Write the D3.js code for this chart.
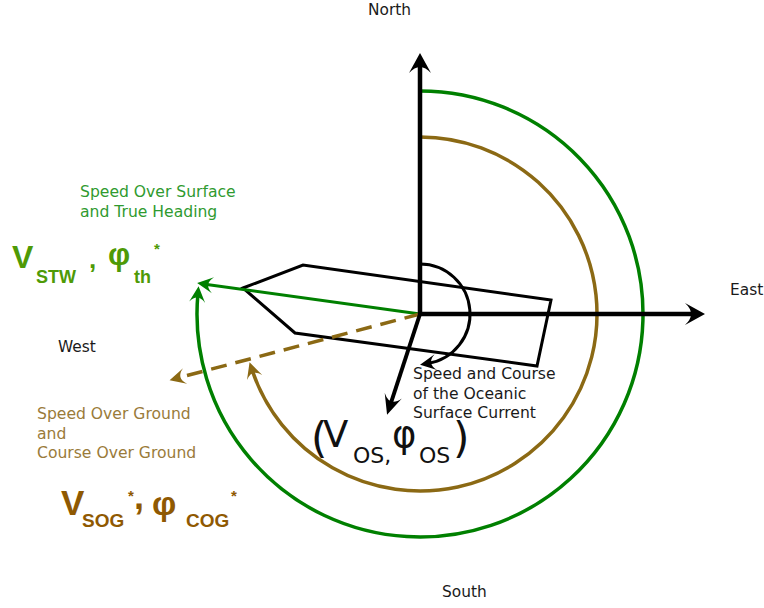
<!DOCTYPE html>
<html lang="en">
<head>
<meta charset="UTF-8">
<title>Speed and course vectors of a vessel</title>
<script src="https://d3js.org/d3.v7.min.js"></script>
<style>
  body { margin: 0; background: #fff; }
  svg { display: block; }
  text { font-family: "DejaVu Sans", sans-serif; }
  .sym { font-family: "Liberation Sans", Arial, sans-serif; font-weight: bold; }
</style>
</head>
<body>
<div id="diagram"></div>
<script>
// Bearings are degrees clockwise from north, lengths in chart units
var compassNames = ["North", "East", "South", "West"];
var axisBearings = [0, 90];
var axisLengths = [261, 285];

var vectorNames = ["STW", "SOG", "OS"];
var vectorBearings = [277.9, 255.2, 198.1];
var vectorLengths = [225, 259, 106];

var arcNames = ["heading", "courseOverGround", "current"];
var arcRadii = [223, 177, 50];
var arcEndBearings = [277, 254, 180];

// ship hull corners, east / north offsets from the reference point
var hullEast = [-177, -117, 131, 117, -125];
var hullNorth = [26, 49, 14, -52, -19];

var stwLines = ["Speed Over Surface", "and True Heading"];
var sogLines = ["Speed Over Ground", "and", "Course Over Ground"];
var osLines = ["Speed and Course", "of the Oceanic", "Surface Current"];

var width = 764, height = 608;
var green = "#008000", brown = "#8b6914";

var x = d3.scaleLinear().domain([-420, 344]).range([0, width]);
var y = d3.scaleLinear().domain([314, -294]).range([0, height]);

function polar(bearing, r) {
    var a = bearing * Math.PI / 180;
    return [x(r * Math.sin(a)), y(r * Math.cos(a))];
}

var svg = d3.select("#diagram").append("svg")
    .attr("width", width)
    .attr("height", height);

var defs = svg.append("defs");

// notched arrow head, tip sits half a head length past the path end
function addMarker(id, color, len, wid) {
    defs.append("marker")
        .attr("id", id)
        .attr("markerUnits", "userSpaceOnUse")
        .attr("viewBox", [-len - 1, -wid - 1, len + 2, wid * 2 + 2].join(" "))
        .attr("markerWidth", len + 2)
        .attr("markerHeight", wid * 2 + 2)
        .attr("refX", -len * 0.5)
        .attr("refY", 0)
        .attr("orient", "auto")
        .append("path")
        .attr("d", "M0,0 L" + (-len) + "," + (-wid) + " Q" + (-0.4 * len) + ",0 " + (-len) + "," + wid + " Z")
        .attr("fill", color);
}
addMarker("head-axis", "#000", 20, 11);
addMarker("head-os", "#000", 20, 9);
addMarker("head-green", green, 16, 8);
addMarker("head-brown", brown, 16, 8);
addMarker("head-small", "#000", 16, 8);

// ship hull
var hullLine = d3.line().x(function (d) { return x(d[0]); }).y(function (d) { return y(d[1]); });
svg.append("path")
    .attr("d", hullLine(d3.zip(hullEast, hullNorth)) + "Z")
    .attr("fill", "none")
    .attr("stroke", "#000")
    .attr("stroke-width", 3)
    .attr("stroke-linejoin", "miter");

// clockwise arcs from north
var arcColors = [green, brown, "#000"];
var arcMarkers = ["head-green", "head-brown", "head-small"];
var arcHeads = [15, 15, 16];
var arcWidths = [3.5, 3.5, 3];
arcRadii.forEach(function (r, i) {
    var rp = x(r) - x(0);
    var endB = arcEndBearings[i] - (arcHeads[i] * 0.5 / rp) * 180 / Math.PI;
    var p = d3.path();
    var a0 = -Math.PI / 2;
    var a1 = (endB - 90) * Math.PI / 180;
    var s = polar(0, r);
    p.moveTo(s[0], s[1]);
    p.arc(x(0), y(0), rp, a0, a1, false);
    svg.append("path")
        .attr("class", "arc-" + arcNames[i])
        .attr("d", p.toString())
        .attr("fill", "none")
        .attr("stroke", arcColors[i])
        .attr("stroke-width", arcWidths[i])
        .attr("marker-end", "url(#" + arcMarkers[i] + ")");
});

// velocity vectors
var vecColors = [green, brown, "#000"];
var vecMarkers = ["head-green", "head-brown", "head-os"];
var vecHeads = [16, 16, 20];
var vecWidths = [3, 3.5, 4];
var vecDash = [null, "16,9", null];
vectorBearings.forEach(function (b, i) {
    var end = polar(b, vectorLengths[i] - vecHeads[i] * 0.5);
    svg.append("line")
        .attr("class", "vec-" + vectorNames[i])
        .attr("x1", x(0)).attr("y1", y(0))
        .attr("x2", end[0]).attr("y2", end[1])
        .attr("stroke", vecColors[i])
        .attr("stroke-width", vecWidths[i])
        .attr("stroke-dasharray", vecDash[i])
        .attr("marker-end", "url(#" + vecMarkers[i] + ")");
});

// north and east axes
axisBearings.forEach(function (b, i) {
    var end = polar(b, axisLengths[i] - 10);
    svg.append("line")
        .attr("x1", x(0)).attr("y1", y(0))
        .attr("x2", end[0]).attr("y2", end[1])
        .attr("stroke", "#000")
        .attr("stroke-width", 4.5)
        .attr("marker-end", "url(#head-axis)");
});

// compass labels
var compassPos = [[368, 15], [730, 295], [442, 597], [58, 352]];
compassNames.forEach(function (t, i) {
    svg.append("text")
        .attr("x", compassPos[i][0])
        .attr("y", compassPos[i][1])
        .attr("font-size", 15.4)
        .attr("fill", "#1a1a1a")
        .text(t);
});

function block(lines, x0, y0, step, color) {
    lines.forEach(function (t, i) {
        svg.append("text")
            .attr("x", x0)
            .attr("y", y0 + i * step)
            .attr("font-size", 15.6)
            .attr("fill", color)
            .text(t);
    });
}
block(stwLines, 80, 197, 19.5, "#2f9a2f");
block(sogLines, 37, 419, 19.5, "#9a7b3a");
block(osLines, 413, 379, 19.5, "#1a1a1a");

// symbol labels
function sym(str, x0, y0, size, color, cls) {
    svg.append("text")
        .attr("class", cls || "sym")
        .attr("x", x0)
        .attr("y", y0)
        .attr("font-size", size)
        .attr("fill", color)
        .text(str);
}
var stwColor = "#4e9a06";
sym("V", 12, 268, 32, stwColor);
sym("STW", 36, 283, 18, stwColor);
sym(",", 89, 268, 26, stwColor);
sym("\u03c6", 108, 265, 31, stwColor);
sym("th", 134, 283, 18, stwColor);
sym("*", 154, 254, 15, stwColor);

var sogColor = "#8f5902";
sym("V", 61, 515, 35, sogColor);
sym("SOG", 82, 527, 19, sogColor);
sym("*", 128, 501, 15, sogColor);
sym(",", 134, 509, 36, sogColor);
sym("\u03c6", 152, 515, 34, sogColor);
sym("COG", 186, 527, 19, sogColor);
sym("*", 231, 501, 15, sogColor);

var osColor = "#111";
sym("(", 311, 453, 42, osColor, "os");
sym("V", 323, 447, 37, osColor, "os");
sym("OS,", 353, 463, 22, osColor, "os");
sym("\u03c6", 392, 447, 37, osColor, "os");
sym("OS", 419, 463, 22, osColor, "os");
sym(")", 453, 453, 42, osColor, "os");
</script>
</body>
</html>
